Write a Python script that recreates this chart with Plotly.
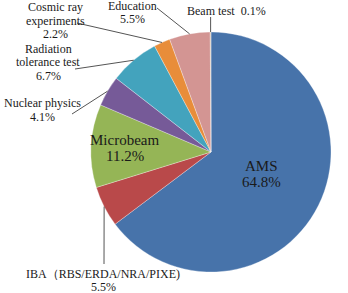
import math
import plotly.graph_objects as go

labels = ["AMS", "IBA（RBS/ERDA/NRA/PIXE)", "Microbeam", "Nuclear physics",
          "Radiation tolerance test", "Cosmic ray experiments", "Education", "Beam test"]
values = [64.8, 5.5, 11.2, 4.1, 6.7, 2.2, 5.5, 0.1]
pct_text = ["64.8%", "5.5%", "11.2%", "4.1%", "6.7%", "2.2%", "5.5%", "0.1%"]
colors = ["#4773aa", "#b9494a", "#95b556", "#765a98", "#43a3bd", "#e88d3a", "#d39593", "#c9b7a0"]

W, H = 348, 293
CX, CY, R = 211, 152, 120  # pie centre / radius in pixels

fig = go.Figure(go.Pie(
    labels=labels, values=values, sort=False, direction="clockwise", rotation=0,
    marker=dict(colors=colors, line=dict(color="rgba(255,255,255,0.5)", width=0.6)),
    textinfo="none", hoverinfo="label+percent", showlegend=False,
    domain=dict(x=[(CX - R) / W, (CX + R) / W], y=[(H - CY - R) / H, (H - CY + R) / H]),
))

def px(x, y):
    return x / W, 1 - y / H

FONT = "Times New Roman"
ann = []
def add_lines(lines, x, y0, size=12, step=13.5, color="#222"):
    for i, t in enumerate(lines):
        xx, yy = px(x, y0 + i * step)
        ann.append(dict(x=xx, y=yy, xref="paper", yref="paper", text=t, showarrow=False,
                        xanchor="center", yanchor="middle",
                        font=dict(family=FONT, size=size, color=color)))

# label layout: (lines, centre x, first line y, leader start, font size, line step)
layout_pos = {
    0: (["AMS", pct_text[0]], 261, 166, None, 15, 16),
    1: (["IBA（RBS/ERDA/NRA/PIXE)", pct_text[1]], 103, 274, (104, 264), 12, 13),
    2: (["Microbeam", pct_text[2]], 125, 140, None, 15, 16),
    3: (["Nuclear physics", pct_text[3]], 42, 103, (72, 114), 12, 14),
    4: (["Radiation", "tolerance test", pct_text[4]], 48, 49, (75, 69), 12, 13.5),
    5: (["Cosmic ray", "experiments", pct_text[5]], 55, 7, (77, 23), 12, 13.5),
    6: (["Education", pct_text[6]], 132, 6, (157, 8), 12, 13.5),
}
add_lines(["Beam test  " + pct_text[7]], 226, 11)

total = sum(values)
cum = 0.0
mids = []
for v in values:
    mids.append((cum + v / 2) / total * 2 * math.pi)
    cum += v

shapes = []
for i, (lines, x, y0, start, size, step) in layout_pos.items():
    add_lines(lines, x, y0, size=size, step=step, color="#1a1a1a")
    if start:
        ex = CX + R * math.sin(mids[i])
        ey = CY - R * math.cos(mids[i])
        x0, y0p = px(*start)
        x1, y1 = px(ex, ey)
        shapes.append(dict(type="line", xref="paper", yref="paper", x0=x0, y0=y0p, x1=x1, y1=y1,
                           line=dict(color="#555", width=1)))
# beam test leader
ex = CX + R * math.sin(mids[7]); ey = CY - R * math.cos(mids[7])
x0, y0p = px(ex, 17); x1, y1 = px(ex, ey)
shapes.append(dict(type="line", xref="paper", yref="paper", x0=x0, y0=y0p, x1=x1, y1=y1,
                   line=dict(color="#555", width=1)))

fig.update_layout(width=W, height=H, margin=dict(l=0, r=0, t=0, b=0),
                  paper_bgcolor="white", plot_bgcolor="white",
                  font=dict(family=FONT),
                  annotations=ann, shapes=shapes)
fig.write_html("out.html")
